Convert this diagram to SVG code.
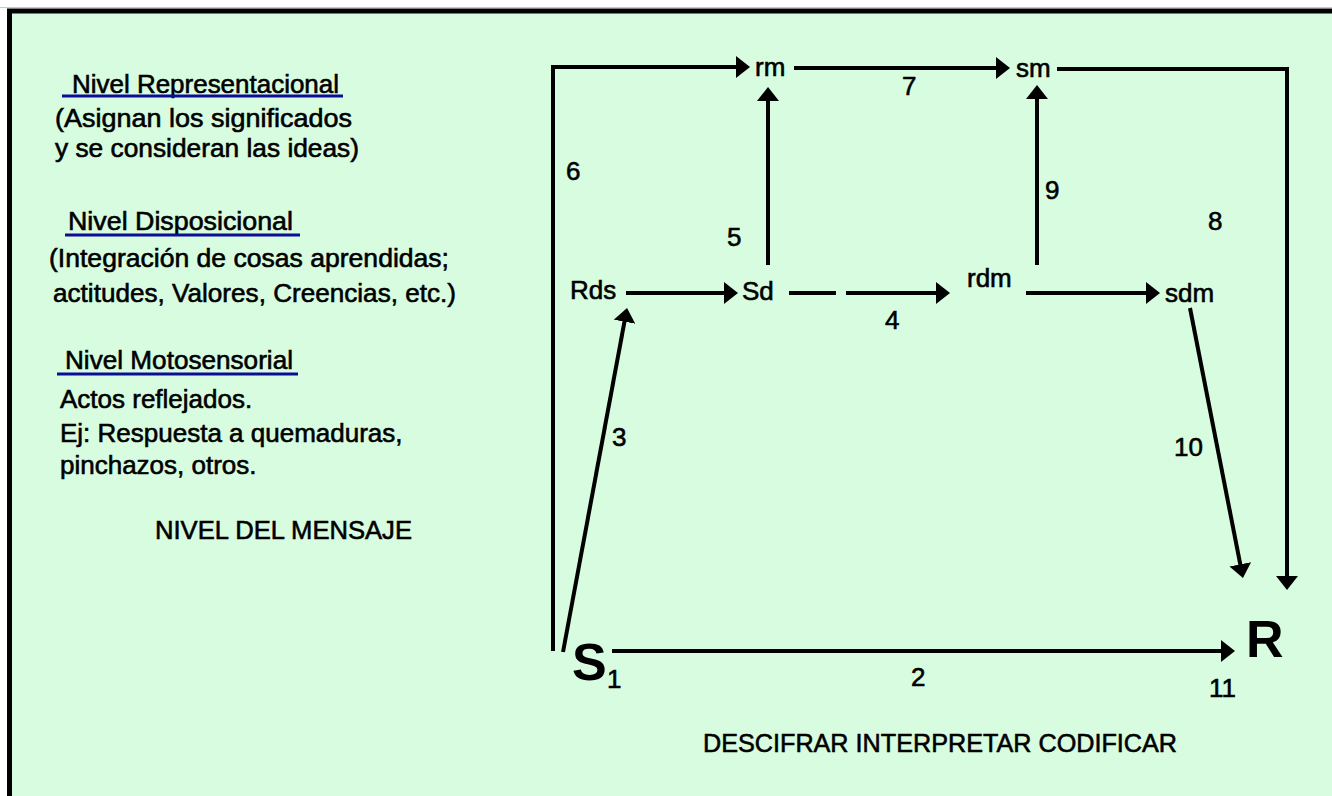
<svg xmlns="http://www.w3.org/2000/svg" width="1332" height="796" viewBox="0 0 1332 796">
<defs>
<style>
text{font-family:"Liberation Sans",Arial,sans-serif;fill:#000;}
.t{font-size:26px;stroke:#000;stroke-width:0.6px;}
.big{font-size:52px;font-weight:bold;}
.ul{stroke:#0c0c96;stroke-width:3;}
.c{fill:none;stroke:#000;stroke-width:4;stroke-linejoin:miter;stroke-linecap:butt;}
.a{marker-end:url(#ah);}
</style>
<marker id="ah" markerUnits="userSpaceOnUse" viewBox="0 0 14 22" markerWidth="14" markerHeight="22" refX="10" refY="11" orient="auto">
<path d="M0,0 L14,11 L0,22 z" fill="#000"/>
</marker>
</defs>
<rect x="0" y="0" width="1332" height="796" fill="#fff"/>
<line x1="0" y1="7.5" x2="1332" y2="7.5" stroke="#c8c8c8" stroke-width="1"/>
<rect x="9.5" y="11" width="1340" height="800" fill="#d8fce0" stroke="#000" stroke-width="5"/>

<g id="legend">
<text class="t" x="72" y="93" textLength="267" lengthAdjust="spacingAndGlyphs">Nivel Representacional</text>
<line class="ul" x1="62" y1="96" x2="343" y2="96"/>
<text class="t" x="55" y="127" textLength="297" lengthAdjust="spacingAndGlyphs">(Asignan los significados</text>
<text class="t" x="55" y="157" textLength="304" lengthAdjust="spacingAndGlyphs">y se consideran las ideas)</text>
<text class="t" x="68" y="230" textLength="225" lengthAdjust="spacingAndGlyphs">Nivel Disposicional</text>
<line class="ul" x1="65" y1="235" x2="300" y2="235"/>
<text class="t" x="49" y="267" textLength="400" lengthAdjust="spacingAndGlyphs">(Integración de cosas aprendidas;</text>
<text class="t" x="53" y="302" textLength="403" lengthAdjust="spacingAndGlyphs">actitudes, Valores, Creencias, etc.)</text>
<text class="t" x="65" y="369" textLength="228" lengthAdjust="spacingAndGlyphs">Nivel Motosensorial</text>
<line class="ul" x1="57" y1="374" x2="298" y2="374"/>
<text class="t" x="60" y="408">Actos reflejados.</text>
<text class="t" x="60" y="442">Ej: Respuesta a quemaduras,</text>
<text class="t" x="60" y="474">pinchazos, otros.</text>
<text class="t" x="155" y="539" textLength="257" lengthAdjust="spacingAndGlyphs">NIVEL DEL MENSAJE</text>
</g>

<g id="connectors">
<path class="c a" d="M553,651 V67 H746"/>
<path class="c a" d="M794,68 H1006"/>
<path class="c a" d="M1057,69 H1287 V586"/>
<path class="c a" d="M768,265 V91"/>
<path class="c a" d="M1037,265 V89"/>
<path class="c a" d="M626,293 H734"/>
<path class="c" d="M789,293 H836"/>
<path class="c a" d="M846,293 H946"/>
<path class="c a" d="M1026,293 H1156"/>
<path class="c a" d="M1190,308 L1242.2,574.1"/>
<path class="c a" d="M563,652 L626.3,311.9"/>
<path class="c a" d="M612,651 H1231"/>
</g>

<g id="connector-labels">
<text class="t" x="902" y="95">7</text>
<text class="t" x="566" y="180">6</text>
<text class="t" x="1045" y="199">9</text>
<text class="t" x="1208" y="230">8</text>
<text class="t" x="727" y="246">5</text>
<text class="t" x="885" y="329">4</text>
<text class="t" x="612" y="446">3</text>
<text class="t" x="1174" y="456">10</text>
<text class="t" x="911" y="686">2</text>
</g>

<g id="node-rm"><text class="t" x="755" y="76">rm</text></g>
<g id="node-sm"><text class="t" x="1016" y="77">sm</text></g>
<g id="node-Rds"><text class="t" x="570" y="299">Rds</text></g>
<g id="node-Sd"><text class="t" x="742" y="300">Sd</text></g>
<g id="node-rdm"><text class="t" x="967" y="287">rdm</text></g>
<g id="node-sdm"><text class="t" x="1165" y="302">sdm</text></g>
<g id="node-S">
<text class="big" x="572" y="680">S</text>
<text class="t" x="607" y="688">1</text>
</g>
<g id="node-R">
<text class="big" x="1246" y="657">R</text>
<text class="t" x="1209" y="697">11</text>
</g>

<g id="footer">
<text class="t" x="703" y="752" textLength="474" lengthAdjust="spacingAndGlyphs">DESCIFRAR INTERPRETAR CODIFICAR</text>
</g>
</svg>
